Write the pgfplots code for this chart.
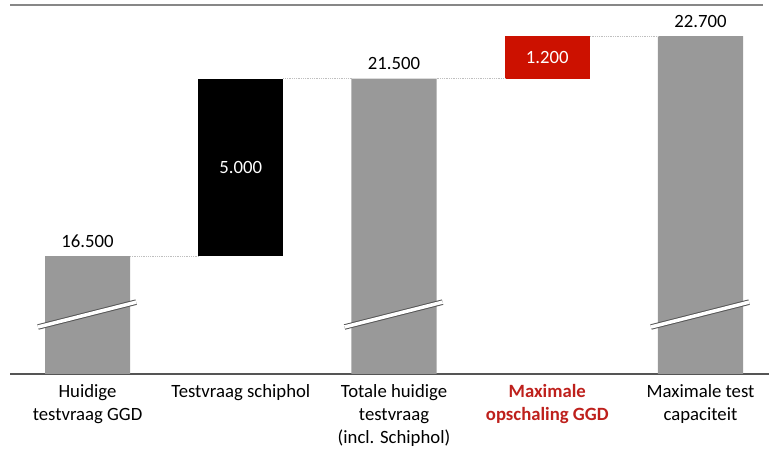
\documentclass[border=0pt]{standalone}
\usepackage{pgfplots}
\pgfplotsset{compat=1.18}
\usepackage{fontspec}
\setmainfont{Carlito}
\definecolor{barGray}{RGB}{153,153,153}
\definecolor{barRed}{RGB}{204,17,0}
\definecolor{txtRed}{RGB}{190,32,28}
\definecolor{lineDark}{RGB}{85,85,85}
\definecolor{lineTop}{RGB}{135,135,135}
\begin{document}
\begin{tikzpicture}
\pgfplotsset{
  base/.style={
    scale only axis, width=759bp, height=369bp,
    xmin=-0.506, xmax=4.447, ymin=13175, ymax=23574,
  },
}
\begin{axis}[base,
  ybar stacked, bar width=0.555,
  axis y line=none, axis x line*=bottom,
  x axis line style={lineDark, line width=1.1pt},
  ytick=\empty, xtick={0,1,2,3,4}, major tick length=0pt,
  xticklabels={{Huidige\\testvraag GGD},{Testvraag schiphol},{Totale huidige\\testvraag\\(incl. Schiphol)},{\textcolor{txtRed}{\textbf{Maximale}}\\\textcolor{txtRed}{\textbf{opschaling GGD}}},{Maximale test\\capaciteit}},
  xticklabel style={align=center, font=\fontsize{18.8}{23}\selectfont, yshift=-7bp},
]
\coordinate (sw) at (rel axis cs:0,0);
\addplot[draw=none, fill=none] coordinates {(0,0) (1,16500) (2,0) (3,21500) (4,0)};
\addplot[draw=none, fill=barGray] coordinates {(0,16500) (1,0) (2,21500) (3,0) (4,22700)};
\addplot[draw=none, fill=black] coordinates {(0,0) (1,5000) (2,0) (3,0) (4,0)};
\addplot[draw=none, fill=barRed] coordinates {(0,0) (1,0) (2,0) (3,1200) (4,0)};
\end{axis}
\begin{axis}[base, hide axis, clip=false]
% top line
\addplot[lineTop, line width=1.1pt] coordinates {(-0.506,23574) (4.41,23574)};
% connectors
\addplot[lightgray, densely dotted, line width=0.8pt] coordinates {(0.2775,16500) (0.7225,16500)};
\addplot[lightgray, densely dotted, line width=0.8pt] coordinates {(1.2775,21500) (1.7225,21500)};
\addplot[lightgray, densely dotted, line width=0.8pt] coordinates {(2.2775,21500) (2.7225,21500)};
\addplot[lightgray, densely dotted, line width=0.8pt] coordinates {(3.2775,22700) (3.7225,22700)};
% break marks
\addplot[lineDark, line width=5.5bp] coordinates {(-0.323,14500) (0.317,15200)};
\addplot[white, line width=3.5bp] coordinates {(-0.323,14500) (0.317,15200)};
\addplot[lineDark, line width=5.5bp] coordinates {(1.677,14500) (2.317,15200)};
\addplot[white, line width=3.5bp] coordinates {(1.677,14500) (2.317,15200)};
\addplot[lineDark, line width=5.5bp] coordinates {(3.677,14500) (4.317,15200)};
\addplot[white, line width=3.5bp] coordinates {(3.677,14500) (4.317,15200)};
% value labels
\addplot[draw=none, nodes near coords, point meta=explicit symbolic,
  every node near coord/.style={anchor=base, yshift=9bp, inner sep=0pt, font=\fontsize{18.8}{22}\selectfont, text=black}]
  coordinates {(0,16500)[16.500] (2,21500)[21.500] (4,22700)[22.700]};
\addplot[draw=none, nodes near coords, point meta=explicit symbolic,
  every node near coord/.style={anchor=center, inner sep=0pt, font=\fontsize{18.8}{22}\selectfont, text=white}]
  coordinates {(1,19000)[5.000] (3,22100)[1.200]};
\end{axis}
\pgfresetboundingbox
\path (sw) ++(-10bp,-76bp) rectangle ++(769bp,450bp);
\end{tikzpicture}
\end{document}
